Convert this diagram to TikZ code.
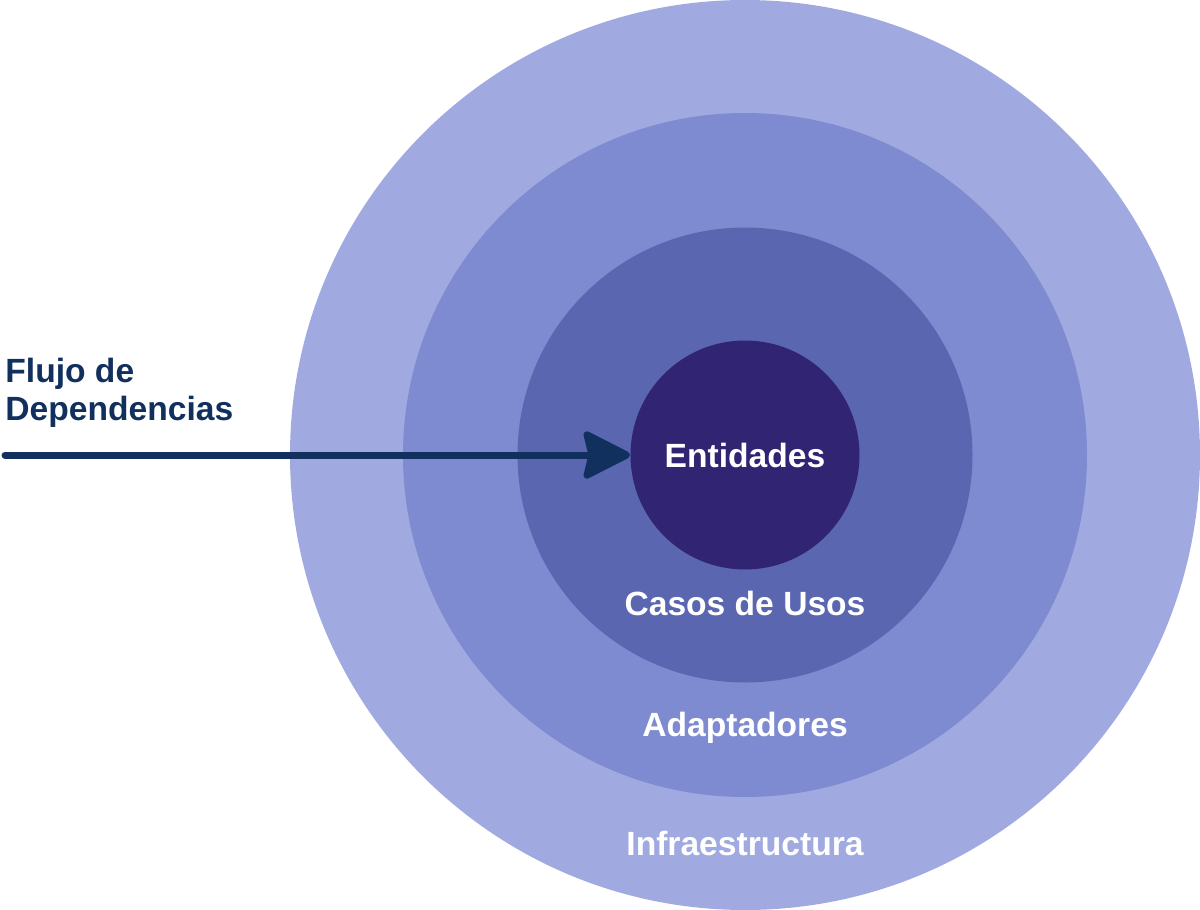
\documentclass[tikz,border=0pt]{standalone}
\usepackage{fontspec}
\setmainfont{Liberation Sans}
\usepackage{xcolor}
\usetikzlibrary{arrows.meta, positioning}

\definecolor{ringInfra}{HTML}{A0AAE0}
\definecolor{ringAdapt}{HTML}{7F8BD0}
\definecolor{ringCasos}{HTML}{5A66B0}
\definecolor{ringEnt}{HTML}{302473}
\definecolor{navy}{HTML}{12305E}

\tikzset{
  ring/.style={circle, inner sep=0pt},
  ringlabel/.style={text=white, font=\fontsize{16.8}{20}\selectfont\bfseries},
  flowlabel/.style={text=navy, anchor=base west, inner sep=0pt, font=\fontsize{16.8}{20}\selectfont\bfseries}
}

\begin{document}
\begin{tikzpicture}[x=0.5pt, y=-0.5pt]
        \useasboundingbox (0,0) rectangle (1200,910);

        % capas concentricas
        \node[ring, fill=ringInfra, minimum size=455pt] (infra) at (745,455) {};
        \node[ring, fill=ringAdapt, minimum size=342pt] (adapt) at (745,455) {};
        \node[ring, fill=ringCasos, minimum size=227.5pt] (casos) at (745,455) {};
        \node[ring, fill=ringEnt, minimum size=114.5pt, ringlabel] (ent) at (745,455) {Entidades};

        \node[ringlabel] (casoslbl) at (745,603) {Casos de Usos};
        \node[ringlabel] (adaptlbl) at (745,728) {Adaptadores};
        \node[ringlabel] (infralbl) at (745,843) {Infraestructura};

        % flujo
        \node[flowlabel] (flujo) at (5,382) {Flujo de};
        \node[flowlabel] (dep) at (5,420) {Dependencias};

        \coordinate (inicio) at (5,455);
        \draw[navy, line width=3.5pt, line cap=round,
              -{Stealth[length=26pt, width=26pt, inset=3pt, round]}] (inicio) -- (ent.west);
    \end{tikzpicture}
\end{document}
